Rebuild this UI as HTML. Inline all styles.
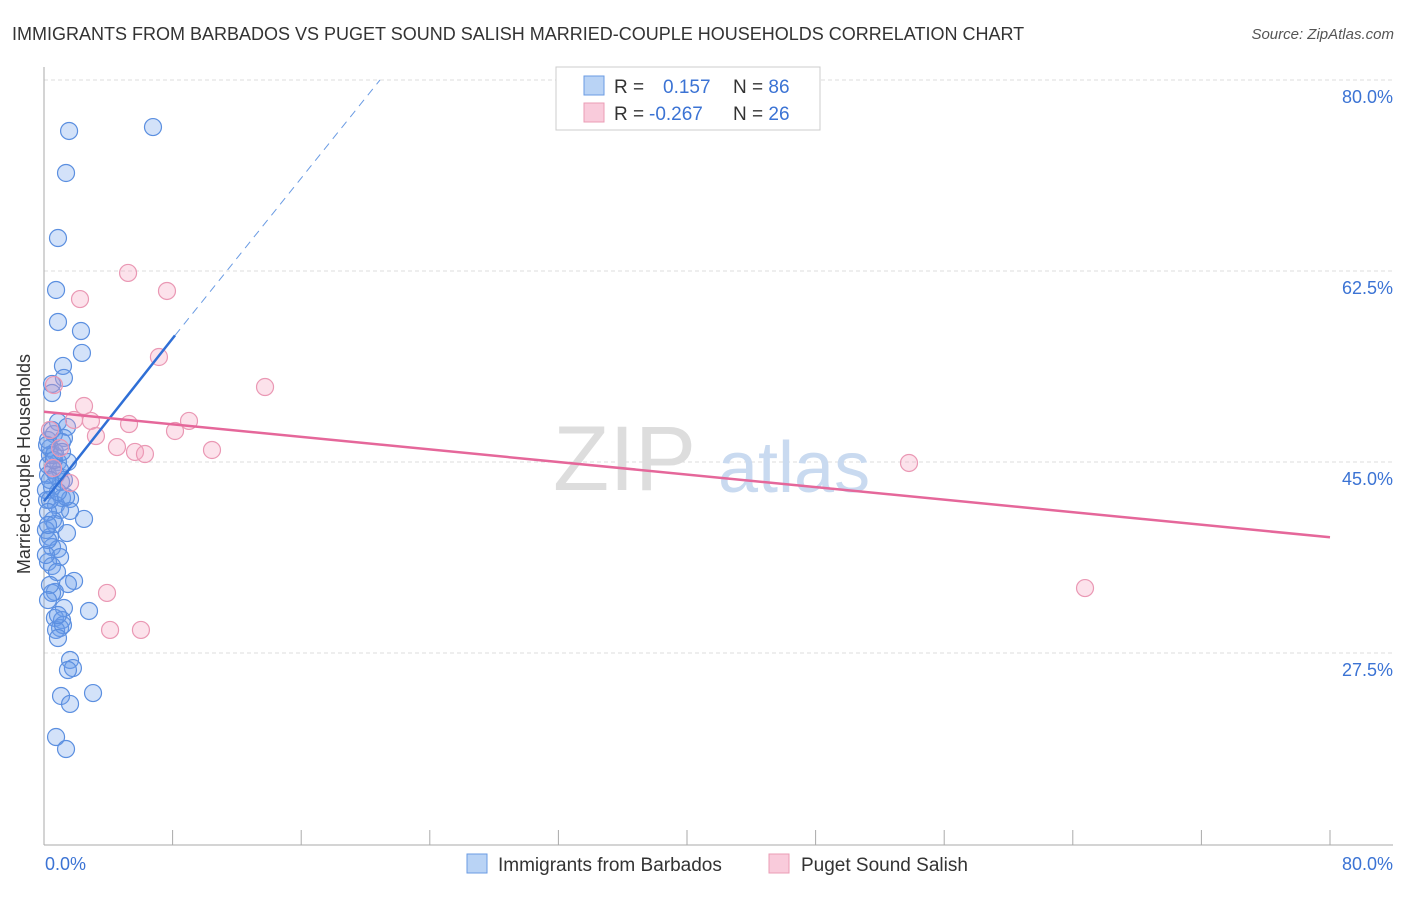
<!DOCTYPE html>
<html><head><meta charset="utf-8"><style>
body{margin:0;background:#fff;font-family:"Liberation Sans",sans-serif;}
svg text{font-family:"Liberation Sans",sans-serif;}
</style></head><body>
<svg id="chart" width="1406" height="892" viewBox="0 0 1406 892">
<text x="12" y="40" font-size="18" fill="#333">IMMIGRANTS FROM BARBADOS VS PUGET SOUND SALISH MARRIED-COUPLE HOUSEHOLDS CORRELATION CHART</text>
<text x="1394" y="39" font-size="15" fill="#555" font-style="italic" text-anchor="end">Source: ZipAtlas.com</text>
<g id="grid"></g>
<g><text x="553" y="490" font-size="92" fill="#ddd" font-family="Liberation Serif">ZIP</text><text x="718" y="492" font-size="72" fill="#c9daf0">atlas</text></g>
<line x1="44" y1="67" x2="44" y2="845" stroke="#aaa"/>
<line x1="44" y1="845" x2="1393" y2="845" stroke="#aaa"/>
<g id="xticks"></g>
<text x="22" y="456" font-size="18" fill="#333" text-anchor="middle" transform="rotate(-90 30 456)">Married-couple Households</text>
<text x="45" y="870" font-size="18" fill="#3b73d4">0.0%</text>
<text x="1393" y="870" font-size="18" fill="#3b73d4" text-anchor="end">80.0%</text>
<g id="pts"></g>
<g id="lines"></g>
<g>
<rect x="556" y="67" width="264" height="63" fill="#fff" stroke="#ccc"/>
<rect x="584" y="76" width="20" height="19" fill="#b9d3f5" stroke="#6a9be3"/>
<rect x="584" y="103" width="20" height="19" fill="#f9cbdb" stroke="#eb9cb6"/>
<text x="614" y="93" font-size="19" fill="#333">R = <tspan fill="#3b73d4" x="663">0.157</tspan><tspan x="733" fill="#333">N = </tspan><tspan fill="#3b73d4">86</tspan></text>
<text x="614" y="120" font-size="19" fill="#333">R = <tspan fill="#3b73d4" x="649">-0.267</tspan><tspan x="733" fill="#333">N = </tspan><tspan fill="#3b73d4">26</tspan></text>
</g>
<g>
<rect x="467" y="854" width="20" height="19" fill="#b9d3f5" stroke="#6a9be3"/>
<text x="498" y="871" font-size="19" fill="#333">Immigrants from Barbados</text>
<rect x="769" y="854" width="20" height="19" fill="#f9cbdb" stroke="#eb9cb6"/>
<text x="801" y="871" font-size="19" fill="#333">Puget Sound Salish</text>
</g>
</svg>
<script>
const yTicks=[80,62.5,45,27.5];
const yTickLabels=["80.0%","62.5%","45.0%","27.5%"];
const xTicks=[8,16,24,32,40,48,56,64,72,80];
const bluePx=[[69,131],[153,127],[66,173],[58,238],[56,290],[58,322],[81,331],[82,353],[63,366],[64,378],[52,384],[52,393],[58,422],[67,427],[64,438],[54,434],[50,448],[55,452],[58,462],[68,462],[48,465],[53,470],[61,482],[52,487],[62,498],[70,499],[47,500],[56,505],[60,510],[70,511],[84,519],[53,520],[55,524],[67,533],[50,537],[52,547],[58,549],[60,557],[48,562],[52,566],[57,572],[74,581],[68,584],[55,592],[52,593],[64,608],[89,611],[55,618],[62,620],[60,628],[56,630],[63,625],[58,638],[70,660],[73,668],[68,670],[93,693],[61,696],[70,704],[56,737],[66,749],[48,440],[50,455],[48,475],[46,490],[50,500],[48,512],[46,530],[48,540],[60,470],[56,475],[64,480],[50,585],[48,600],[58,615],[54,455],[47,445],[52,430],[62,442],[48,525],[46,555],[66,497],[54,460],[62,452],[50,480],[58,492]];
const pinkPx=[[128,273],[80,299],[167,291],[159,357],[265,387],[54,385],[84,406],[74,420],[91,421],[189,421],[129,424],[175,431],[96,436],[117,447],[135,452],[145,454],[212,450],[909,463],[53,468],[70,483],[1085,588],[107,593],[110,630],[141,630],[60,448],[50,430]];
// convert read positions into data values (x %, y %)
const blueX=bluePx.map(p=>+((p[0]-44)/16.075).toFixed(2));
const blueY=bluePx.map(p=>+(80-(p[1]-80)/10.914).toFixed(2));
const pinkX=pinkPx.map(p=>+((p[0]-44)/16.075).toFixed(2));
const pinkY=pinkPx.map(p=>+(80-(p[1]-80)/10.914).toFixed(2));
const blueTrend=[[0,41.4],[8.15,56.6],[20.9,80]];
const pinkTrend=[[0,49.6],[80,38.1]];
const X=v=>44+v*16.075, Y=v=>80+(80-v)*10.914;
const NS="http://www.w3.org/2000/svg";
function mk(t,a,p){const e=document.createElementNS(NS,t);for(const k in a)e.setAttribute(k,a[k]);p.appendChild(e);return e;}
const grid=document.getElementById('grid');
yTicks.forEach((v,i)=>{
 const l=mk('line',{x1:44,x2:1393,y1:Y(v),y2:Y(v),stroke:'#ddd','stroke-dasharray':'4 3'},grid);
 
 
 const t=mk('text',{x:1393,y:Y(v)+23,'font-size':18,fill:'#3b73d4','text-anchor':'end'},grid);
 t.textContent=yTickLabels[i];
 
 
});
const xt=document.getElementById('xticks');
xTicks.forEach(v=>{const l=mk('line',{x1:X(v),x2:X(v),y1:830,y2:845,stroke:'#aaa'},xt);
 
 });
const pts=document.getElementById('pts');
blueX.forEach((x,i)=>{const c=mk('circle',{cx:X(x),cy:Y(blueY[i]),r:8.5,fill:'rgba(110,160,235,0.3)',stroke:'#5b8fe0','stroke-width':1.2},pts);
 
 });
pinkX.forEach((x,i)=>{const c=mk('circle',{cx:X(x),cy:Y(pinkY[i]),r:8.5,fill:'rgba(245,160,190,0.3)',stroke:'#ea98b4','stroke-width':1.2},pts);
 
 });
const ln=document.getElementById('lines');
const b1=mk('line',{x1:X(blueTrend[0][0]),y1:Y(blueTrend[0][1]),x2:X(blueTrend[1][0]),y2:Y(blueTrend[1][1]),stroke:'#2f6fd6','stroke-width':2.5},ln);


const b2=mk('line',{x1:X(blueTrend[1][0]),y1:Y(blueTrend[1][1]),x2:X(blueTrend[2][0]),y2:Y(blueTrend[2][1]),stroke:'#6a9be3','stroke-width':1,'stroke-dasharray':'8 6'},ln);


const p1=mk('line',{x1:X(pinkTrend[0][0]),y1:Y(pinkTrend[0][1]),x2:X(pinkTrend[1][0]),y2:Y(pinkTrend[1][1]),stroke:'#e5679a','stroke-width':2.5},ln);


</script>
</body></html>
